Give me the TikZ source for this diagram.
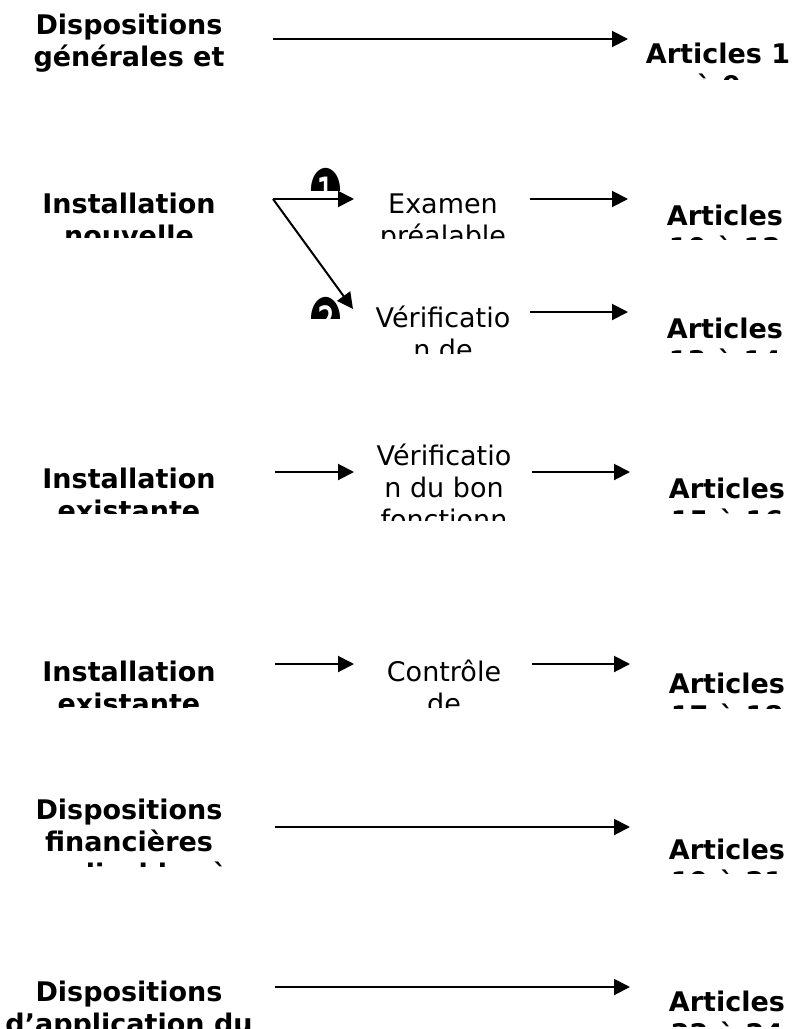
\documentclass[tikz,border=0pt]{standalone}
\usepackage{fontspec}
\setmainfont{DejaVu Sans}
\usetikzlibrary{arrows.meta}
\tikzset{
  titre/.style={font=\fontsize{27}{32}\selectfont\bfseries, align=center, inner sep=0pt, anchor=north},
  etape/.style={font=\fontsize{27}{32}\selectfont, align=center, inner sep=0pt, anchor=north},
  fleche/.style={line width=2pt, -{Triangle[length=16pt,width=16pt]}},
  puce/.style={font=\fontsize{39}{39}\selectfont, inner sep=0pt, anchor=north}
}
\begin{document}
\begin{tikzpicture}[x=1pt,y=-1pt]
  \useasboundingbox (0,0) rectangle (797,1029);
  % Dispositions generales
  \begin{scope}
    \clip (0,0) rectangle (260,72);
    \node[titre] (gen) at (129,14) {Dispositions\\générales et\\définitions};
  \end{scope}
  \begin{scope}
    \clip (640,0) rectangle (797,79);
    \node[titre] (artgen) at (718,43) {Articles 1\\à 9};
  \end{scope}
  \coordinate (gen-a) at (273,39);
  \coordinate (gen-b) at (628,39);
  \draw[fleche] (gen-a) -- (gen-b);
  % Installation nouvelle
  \begin{scope}
    \clip (0,150) rectangle (260,237);
    \node[titre] (neuf) at (129,193) {Installation\\nouvelle};
  \end{scope}
  \begin{scope}
    \clip (300,150) rectangle (380,190);
    \node[puce] (un) at (326,168) {\scalebox{1}[1.5]{❶}};
  \end{scope}
  \begin{scope}
    \clip (300,280) rectangle (380,318);
    \node[puce] (deux) at (326,297) {\scalebox{1}[1.5]{❷}};
  \end{scope}
  \begin{scope}
    \clip (360,150) rectangle (530,238);
    \node[etape] (examen) at (443,194) {Examen\\préalable};
  \end{scope}
  \begin{scope}
    \clip (360,280) rectangle (530,353);
    \node[etape] (verif) at (443,306) {Vérificatio\\n de\\l'exécution};
  \end{scope}
  \begin{scope}
    \clip (640,150) rectangle (797,239);
    \node[titre] (artex) at (725,205) {Articles\\10 à 12};
  \end{scope}
  \begin{scope}
    \clip (640,280) rectangle (797,352);
    \node[titre] (artve) at (725,318) {Articles\\13 à 14};
  \end{scope}
  \coordinate (fourche) at (273,199);
  \coordinate (ex-a) at (354,199);
  \coordinate (ve-a) at (353,309);
  \coordinate (ex-b) at (530,199);
  \coordinate (ex-c) at (628,199);
  \coordinate (ve-b) at (530,312);
  \coordinate (ve-c) at (628,312);
  \draw[fleche] (fourche) -- (ex-a);
  \draw[fleche] (fourche) -- (ve-a);
  \draw[fleche] (ex-b) -- (ex-c);
  \draw[fleche] (ve-b) -- (ve-c);
  % Installation existante : bon fonctionnement
  \begin{scope}
    \clip (0,420) rectangle (260,513);
    \node[titre] (exist) at (129,468) {Installation\\existante};
  \end{scope}
  \begin{scope}
    \clip (360,420) rectangle (530,520);
    \node[etape] (bon) at (444,444) {Vérificatio\\n du bon\\fonctionn\\ement};
  \end{scope}
  \begin{scope}
    \clip (640,420) rectangle (797,513);
    \node[titre] (artbon) at (727,478) {Articles\\15 à 16};
  \end{scope}
  \coordinate (bon-a) at (275,472);
  \coordinate (bon-b) at (354,472);
  \coordinate (bon-c) at (532,472);
  \coordinate (bon-d) at (630,472);
  \draw[fleche] (bon-a) -- (bon-b);
  \draw[fleche] (bon-c) -- (bon-d);
  % Installation existante : controle
  \begin{scope}
    \clip (0,620) rectangle (260,707);
    \node[titre] (exist2) at (129,661) {Installation\\existante};
  \end{scope}
  \begin{scope}
    \clip (360,620) rectangle (530,707);
    \node[etape] (ctrl) at (444,660) {Contrôle\\de\\l'entretien};
  \end{scope}
  \begin{scope}
    \clip (640,620) rectangle (797,708);
    \node[titre] (artctrl) at (727,673) {Articles\\17 à 18};
  \end{scope}
  \coordinate (ctrl-a) at (275,664);
  \coordinate (ctrl-b) at (354,664);
  \coordinate (ctrl-c) at (532,664);
  \coordinate (ctrl-d) at (630,664);
  \draw[fleche] (ctrl-a) -- (ctrl-b);
  \draw[fleche] (ctrl-c) -- (ctrl-d);
  % Dispositions financieres
  \begin{scope}
    \clip (0,770) rectangle (260,866);
    \node[titre] (fin) at (129,799) {Dispositions\\financières\\applicables à};
  \end{scope}
  \begin{scope}
    \clip (640,770) rectangle (797,873);
    \node[titre] (artfin) at (727,839) {Articles\\19 à 21};
  \end{scope}
  \coordinate (fin-a) at (275,827);
  \coordinate (fin-b) at (630,827);
  \draw[fleche] (fin-a) -- (fin-b);
  % Dispositions d'application
  \begin{scope}
    \clip (0,940) rectangle (260,1029);
    \node[titre] (app) at (129,981) {Dispositions\\d’application du\\règlement};
  \end{scope}
  \begin{scope}
    \clip (640,940) rectangle (797,1026);
    \node[titre] (artapp) at (727,991) {Articles\\22 à 24};
  \end{scope}
  \coordinate (app-a) at (275,987);
  \coordinate (app-b) at (630,987);
  \draw[fleche] (app-a) -- (app-b);
\end{tikzpicture}
\end{document}
